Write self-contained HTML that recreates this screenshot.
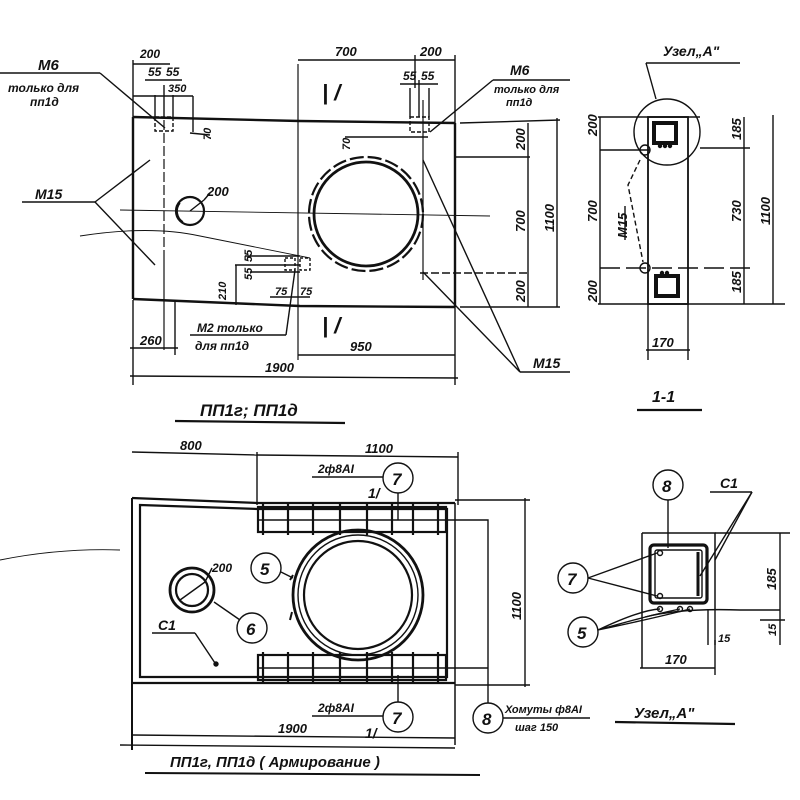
<!DOCTYPE html>
<html><head><meta charset="utf-8"><style>
html,body{margin:0;padding:0;background:#fff}
svg{display:block}
text{font-family:"Liberation Sans",sans-serif;font-style:italic;font-weight:bold;fill:#111}
</style></head><body>
<svg width="800" height="800" viewBox="0 0 800 800" xmlns="http://www.w3.org/2000/svg" stroke="#111" fill="none" stroke-width="1.4">
<!-- ========== TOP VIEW ========== -->
<g>
<path d="M133 117 L300 121 L455 123" stroke-width="2.4"/>
<path d="M133 299 L300 306 L455 307" stroke-width="2.4"/>
<line x1="133" y1="117" x2="133" y2="299" stroke-width="2.4"/>
<line x1="455" y1="123" x2="455" y2="307" stroke-width="2.4"/>
<circle cx="366" cy="214" r="52" stroke-width="2.8"/>
<circle cx="366" cy="214" r="57" stroke-width="2.2" stroke-dasharray="14 4"/>
<circle cx="190" cy="211" r="14" stroke-width="2.2"/>
<path d="M180 203 A13 13 0 0 0 183 222" stroke-width="1.5"/>
<line x1="190" y1="211" x2="204" y2="200"/>
<path d="M204 200 L210 193" />
<text x="207" y="196" font-size="13" stroke="none">200</text>
<line x1="120" y1="210" x2="490" y2="216" stroke-width="0.9"/>
<path d="M80 236 Q150 225 200 236 L310 258" stroke-width="0.9"/>
<line x1="298" y1="64" x2="298" y2="360" stroke-width="1.2"/>
<line x1="164" y1="120" x2="164" y2="255" stroke-width="1.2" stroke-dasharray="10 3"/>
<line x1="164" y1="255" x2="164" y2="350" stroke-width="1.2"/>
<line x1="423" y1="100" x2="423" y2="280" stroke-width="1.2"/>
<rect x="155" y="117" width="18" height="14" stroke-dasharray="4 2"/>
<line x1="155" y1="95" x2="155" y2="117"/><line x1="164" y1="85" x2="164" y2="117"/><line x1="173" y1="95" x2="173" y2="117"/>
<line x1="133" y1="60" x2="133" y2="117"/>
<line x1="133" y1="64" x2="170" y2="64"/>
<line x1="145" y1="80" x2="182" y2="80"/>
<line x1="133" y1="96" x2="193" y2="96"/>
<line x1="193" y1="96" x2="193" y2="132"/>
<line x1="190" y1="133" x2="210" y2="135"/>
<text x="140" y="58" font-size="12" stroke="none">200</text>
<text x="148" y="76" font-size="12" stroke="none">55</text>
<text x="166" y="76" font-size="12" stroke="none">55</text>
<text x="168" y="92" font-size="11" stroke="none">350</text>
<text x="211" y="140" font-size="11" stroke="none" transform="rotate(-90 211 140)">70</text>
<line x1="0" y1="73" x2="100" y2="73"/>
<line x1="100" y1="73" x2="165" y2="128"/>
<text x="38" y="70" font-size="15" stroke="none">М6</text>
<text x="8" y="92" font-size="12" stroke="none">только для</text>
<text x="30" y="106" font-size="12" stroke="none">пп1д</text>
<line x1="22" y1="202" x2="95" y2="202"/>
<line x1="95" y1="202" x2="150" y2="160"/>
<line x1="95" y1="202" x2="155" y2="265"/>
<text x="35" y="199" font-size="14" stroke="none">М15</text>
<rect x="410" y="117" width="19" height="15" stroke-dasharray="4 2"/>
<line x1="410" y1="88" x2="410" y2="117"/><line x1="419" y1="80" x2="419" y2="117"/><line x1="429" y1="88" x2="429" y2="117"/>
<line x1="345" y1="137" x2="428" y2="137"/>
<text x="350" y="150" font-size="11" stroke="none" transform="rotate(-90 350 150)">70</text>
<line x1="400" y1="84" x2="438" y2="84"/>
<text x="403" y="80" font-size="12" stroke="none">55</text>
<text x="421" y="80" font-size="12" stroke="none">55</text>
<line x1="430" y1="132" x2="493" y2="80"/>
<line x1="493" y1="80" x2="570" y2="80"/>
<text x="510" y="75" font-size="14" stroke="none">М6</text>
<text x="494" y="93" font-size="11" stroke="none">только для</text>
<text x="506" y="106" font-size="11" stroke="none">пп1д</text>
<rect x="285" y="258" width="10" height="12" stroke-dasharray="3 2"/>
<rect x="300" y="258" width="10" height="12" stroke-dasharray="3 2"/>
<line x1="245" y1="256" x2="300" y2="256"/>
<line x1="235" y1="265" x2="300" y2="265"/>
<line x1="250" y1="272" x2="300" y2="272"/>
<line x1="236" y1="265" x2="236" y2="305"/>
<line x1="270" y1="297" x2="310" y2="297"/>
<text x="226" y="300" font-size="11" stroke="none" transform="rotate(-90 226 300)">210</text>
<text x="252" y="262" font-size="11" stroke="none" transform="rotate(-90 252 262)">55</text>
<text x="252" y="280" font-size="11" stroke="none" transform="rotate(-90 252 280)">55</text>
<text x="275" y="295" font-size="11" stroke="none">75</text>
<text x="300" y="295" font-size="11" stroke="none">75</text>
<line x1="295" y1="270" x2="286" y2="335"/>
<line x1="190" y1="335" x2="286" y2="335"/>
<text x="197" y="332" font-size="12" stroke="none">М2 только</text>
<text x="195" y="350" font-size="12" stroke="none">для пп1д</text>
<text x="322" y="100" font-size="22" stroke="none">| /</text>
<text x="322" y="333" font-size="22" stroke="none">| /</text>
<line x1="298" y1="60" x2="455" y2="60"/>
<line x1="415" y1="55" x2="415" y2="88"/>
<line x1="455" y1="55" x2="455" y2="123"/>
<text x="335" y="56" font-size="13" stroke="none">700</text>
<text x="420" y="56" font-size="13" stroke="none">200</text>
<line x1="455" y1="157" x2="530" y2="157"/>
<line x1="420" y1="273" x2="530" y2="273" stroke-dasharray="8 3"/>
<line x1="460" y1="123" x2="560" y2="120"/>
<line x1="460" y1="307" x2="560" y2="307"/>
<line x1="528" y1="123" x2="528" y2="307"/>
<line x1="557" y1="118" x2="557" y2="307"/>
<text x="525" y="150" font-size="13" stroke="none" transform="rotate(-90 525 150)">200</text>
<text x="525" y="232" font-size="13" stroke="none" transform="rotate(-90 525 232)">700</text>
<text x="525" y="302" font-size="13" stroke="none" transform="rotate(-90 525 302)">200</text>
<text x="554" y="232" font-size="13" stroke="none" transform="rotate(-90 554 232)">1100</text>
<line x1="423" y1="160" x2="520" y2="372"/>
<line x1="423" y1="272" x2="520" y2="372"/>
<line x1="520" y1="372" x2="570" y2="372"/>
<text x="533" y="368" font-size="14" stroke="none">М15</text>
<line x1="133" y1="300" x2="133" y2="385"/>
<line x1="175" y1="300" x2="175" y2="355"/>
<line x1="130" y1="348" x2="178" y2="348"/>
<text x="140" y="345" font-size="13" stroke="none">260</text>
<line x1="298" y1="355" x2="455" y2="355"/>
<line x1="455" y1="307" x2="455" y2="385"/>
<text x="350" y="351" font-size="13" stroke="none">950</text>
<line x1="130" y1="376" x2="458" y2="378"/>
<text x="265" y="372" font-size="13" stroke="none">1900</text>
<text x="200" y="416" font-size="17" stroke="none">ПП1г; ПП1д</text>
<line x1="175" y1="421" x2="345" y2="423" stroke-width="2.2"/>
</g>
<!-- ========== SECTION 1-1 ========== -->
<g>
<rect x="648" y="117" width="40" height="187" stroke-width="1.8"/>
<line x1="600" y1="150" x2="650" y2="150"/>
<line x1="700" y1="148" x2="750" y2="148"/>
<line x1="600" y1="268" x2="750" y2="268" stroke-dasharray="20 6"/>
<line x1="598" y1="117" x2="700" y2="117"/>
<line x1="598" y1="304" x2="785" y2="304"/>
<circle cx="667" cy="132" r="33"/>
<rect x="654" y="123" width="22" height="20" stroke-width="4"/>
<rect x="656" y="276" width="22" height="20" stroke-width="4"/>
<circle cx="660" cy="146" r="1.5" fill="#111"/><circle cx="665" cy="146" r="1.5" fill="#111"/><circle cx="670" cy="146" r="1.5" fill="#111"/>
<circle cx="662" cy="273" r="1.5" fill="#111"/><circle cx="667" cy="273" r="1.5" fill="#111"/>
<circle cx="645" cy="150" r="5"/>
<circle cx="645" cy="268" r="5"/>
<path d="M640 160 L628 185 L643 262" stroke-dasharray="5 3"/>
<text x="627" y="238" font-size="13" stroke="none" transform="rotate(-90 627 238)">М15</text>
<line x1="625" y1="240" x2="625" y2="206"/>
<line x1="646" y1="63" x2="740" y2="63"/>
<line x1="646" y1="63" x2="656" y2="99"/>
<text x="663" y="56" font-size="14" stroke="none">Узел„А"</text>
<line x1="600" y1="117" x2="600" y2="304"/>
<line x1="744" y1="117" x2="744" y2="304"/>
<line x1="773" y1="115" x2="773" y2="304"/>
<text x="597" y="136" font-size="13" stroke="none" transform="rotate(-90 597 136)">200</text>
<text x="597" y="222" font-size="13" stroke="none" transform="rotate(-90 597 222)">700</text>
<text x="597" y="302" font-size="13" stroke="none" transform="rotate(-90 597 302)">200</text>
<text x="741" y="140" font-size="13" stroke="none" transform="rotate(-90 741 140)">185</text>
<text x="741" y="222" font-size="13" stroke="none" transform="rotate(-90 741 222)">730</text>
<text x="741" y="293" font-size="13" stroke="none" transform="rotate(-90 741 293)">185</text>
<text x="770" y="225" font-size="13" stroke="none" transform="rotate(-90 770 225)">1100</text>
<line x1="648" y1="304" x2="648" y2="360"/>
<line x1="688" y1="304" x2="688" y2="360"/>
<line x1="646" y1="350" x2="690" y2="350"/>
<text x="652" y="347" font-size="13" stroke="none">170</text>
<text x="652" y="402" font-size="16" stroke="none">1-1</text>
<line x1="637" y1="410" x2="702" y2="410" stroke-width="2.2"/>
</g>
<!-- ========== BOTTOM VIEW ========== -->
<g>
<path d="M132 498 L258 503 L455 503" stroke-width="2.2"/>
<path d="M132 683 L300 683 L455 683" stroke-width="2.2"/>
<line x1="132" y1="498" x2="132" y2="750" stroke-width="2"/>
<line x1="455" y1="503" x2="455" y2="745" stroke-width="1.5"/>
<path d="M140 505 L258 509 L447 509 L447 677 L140 677 Z" stroke-width="2.2"/>
<rect x="258" y="507" width="188" height="25" stroke-width="2.2"/>
<line x1="258" y1="520" x2="446" y2="520"/>
<rect x="258" y="655" width="188" height="25" stroke-width="2.2"/>
<line x1="258" y1="668" x2="446" y2="668"/>
<g stroke-width="2.2">
<line x1="263" y1="503" x2="263" y2="535"/><line x1="288" y1="503" x2="288" y2="535"/><line x1="313" y1="503" x2="313" y2="535"/><line x1="340" y1="503" x2="340" y2="535"/><line x1="367" y1="503" x2="367" y2="535"/><line x1="392" y1="503" x2="392" y2="535"/><line x1="413" y1="503" x2="413" y2="535"/><line x1="438" y1="503" x2="438" y2="535"/>
<line x1="263" y1="652" x2="263" y2="683"/><line x1="288" y1="652" x2="288" y2="683"/><line x1="313" y1="652" x2="313" y2="683"/><line x1="340" y1="652" x2="340" y2="683"/><line x1="367" y1="652" x2="367" y2="683"/><line x1="392" y1="652" x2="392" y2="683"/><line x1="413" y1="652" x2="413" y2="683"/><line x1="438" y1="652" x2="438" y2="683"/>
</g>
<circle cx="358" cy="595" r="65" stroke-width="2.8"/>
<circle cx="358" cy="595" r="60" stroke-width="1.4"/>
<circle cx="358" cy="595" r="54" stroke-width="2.2"/>
<path d="M293 575 L290 580 M292 612 L290 620" stroke-width="2"/>
<circle cx="192" cy="590" r="22" stroke-width="2.8"/>
<circle cx="192" cy="590" r="16" stroke-width="2.2"/>
<line x1="180" y1="600" x2="205" y2="582"/>
<path d="M205 582 L212 568"/>
<text x="212" y="572" font-size="12" stroke="none">200</text>
<path d="M0 560 Q60 548 120 550" stroke-width="0.9"/>
<circle cx="398" cy="478" r="15"/><text x="392" y="485" font-size="17" stroke="none">7</text>
<line x1="398" y1="493" x2="398" y2="520"/>
<line x1="312" y1="477" x2="383" y2="477"/>
<text x="318" y="473" font-size="12" stroke="none">2ф8АI</text>
<text x="368" y="498" font-size="14" stroke="none">1/</text>
<circle cx="398" cy="717" r="15"/><text x="392" y="724" font-size="17" stroke="none">7</text>
<line x1="398" y1="702" x2="398" y2="675"/>
<line x1="312" y1="716" x2="383" y2="716"/>
<text x="318" y="712" font-size="12" stroke="none">2ф8АI</text>
<text x="365" y="738" font-size="14" stroke="none">1/</text>
<circle cx="266" cy="568" r="15"/><text x="260" y="575" font-size="17" stroke="none">5</text>
<line x1="281" y1="572" x2="293" y2="578"/>
<circle cx="252" cy="628" r="15"/><text x="246" y="635" font-size="17" stroke="none">6</text>
<line x1="240" y1="620" x2="214" y2="602"/>
<line x1="152" y1="633" x2="195" y2="633"/>
<line x1="195" y1="633" x2="215" y2="663"/>
<circle cx="216" cy="664" r="2" fill="#111"/>
<text x="158" y="630" font-size="14" stroke="none">С1</text>
<circle cx="488" cy="718" r="15"/><text x="482" y="725" font-size="17" stroke="none">8</text>
<path d="M446 520 L488 520 L488 703 M446 668 L488 668"/>
<line x1="503" y1="718" x2="590" y2="718"/>
<text x="505" y="713" font-size="11" stroke="none">Хомуты ф8АI</text>
<text x="515" y="731" font-size="11" stroke="none">шаг 150</text>
<line x1="132" y1="452" x2="257" y2="455"/>
<line x1="257" y1="455" x2="458" y2="457"/>
<line x1="257" y1="452" x2="257" y2="505"/>
<line x1="458" y1="452" x2="458" y2="505"/>
<text x="180" y="450" font-size="13" stroke="none">800</text>
<text x="365" y="453" font-size="13" stroke="none">1100</text>
<line x1="455" y1="500" x2="530" y2="500"/>
<line x1="455" y1="685" x2="530" y2="685"/>
<line x1="525" y1="498" x2="525" y2="687"/>
<text x="521" y="620" font-size="13" stroke="none" transform="rotate(-90 521 620)">1100</text>
<line x1="132" y1="735" x2="455" y2="738"/>
<text x="278" y="733" font-size="13" stroke="none">1900</text>
<line x1="120" y1="745" x2="455" y2="748"/>
<text x="170" y="767" font-size="15" stroke="none">ПП1г, ПП1д ( Армирование )</text>
<line x1="145" y1="773" x2="480" y2="775" stroke-width="2"/>
</g>
<!-- ========== УЗЕЛ А ========== -->
<g>
<path d="M642 533 L715 533 L715 610 M642 533 L642 668" stroke-width="1.5"/>
<rect x="650" y="545" width="57" height="58" rx="4" stroke-width="3.2"/>
<rect x="655" y="550" width="47" height="48" rx="2" stroke-width="1.4"/>
<line x1="698" y1="552" x2="698" y2="596" stroke-width="3"/>
<circle cx="660" cy="553" r="2.5"/><circle cx="660" cy="596" r="2.5"/>
<circle cx="660" cy="609" r="2.5"/><circle cx="680" cy="609" r="2.5"/><circle cx="690" cy="609" r="2.5"/>
<path d="M645 617 Q680 608 740 610 L780 610"/>
<line x1="715" y1="533" x2="790" y2="533"/>
<line x1="715" y1="610" x2="715" y2="645"/>
<line x1="708" y1="610" x2="708" y2="645"/>
<line x1="780" y1="533" x2="780" y2="645"/>
<line x1="760" y1="620" x2="785" y2="620"/>
<text x="776" y="590" font-size="13" stroke="none" transform="rotate(-90 776 590)">185</text>
<text x="776" y="636" font-size="11" stroke="none" transform="rotate(-90 776 636)">15</text>
<text x="718" y="642" font-size="11" stroke="none">15</text>
<line x1="640" y1="668" x2="715" y2="668"/>
<line x1="715" y1="640" x2="715" y2="675"/>
<text x="665" y="664" font-size="13" stroke="none">170</text>
<circle cx="668" cy="485" r="15"/><text x="662" y="492" font-size="17" stroke="none">8</text>
<line x1="668" y1="500" x2="668" y2="548"/>
<circle cx="573" cy="578" r="15"/><text x="567" y="585" font-size="17" stroke="none">7</text>
<line x1="588" y1="578" x2="657" y2="553"/>
<line x1="588" y1="578" x2="657" y2="596"/>
<circle cx="583" cy="632" r="15"/><text x="577" y="639" font-size="17" stroke="none">5</text>
<path d="M598 630 Q640 610 660 609 M598 630 Q650 615 680 609 M598 630 Q655 618 690 609"/>
<line x1="710" y1="492" x2="752" y2="492"/>
<line x1="752" y1="492" x2="700" y2="576"/>
<line x1="752" y1="492" x2="715" y2="560"/>
<text x="720" y="488" font-size="14" stroke="none">С1</text>
<text x="634" y="718" font-size="15" stroke="none">Узел„А"</text>
<line x1="615" y1="722" x2="735" y2="724" stroke-width="2.2"/>
</g>
</svg>
</body></html>
